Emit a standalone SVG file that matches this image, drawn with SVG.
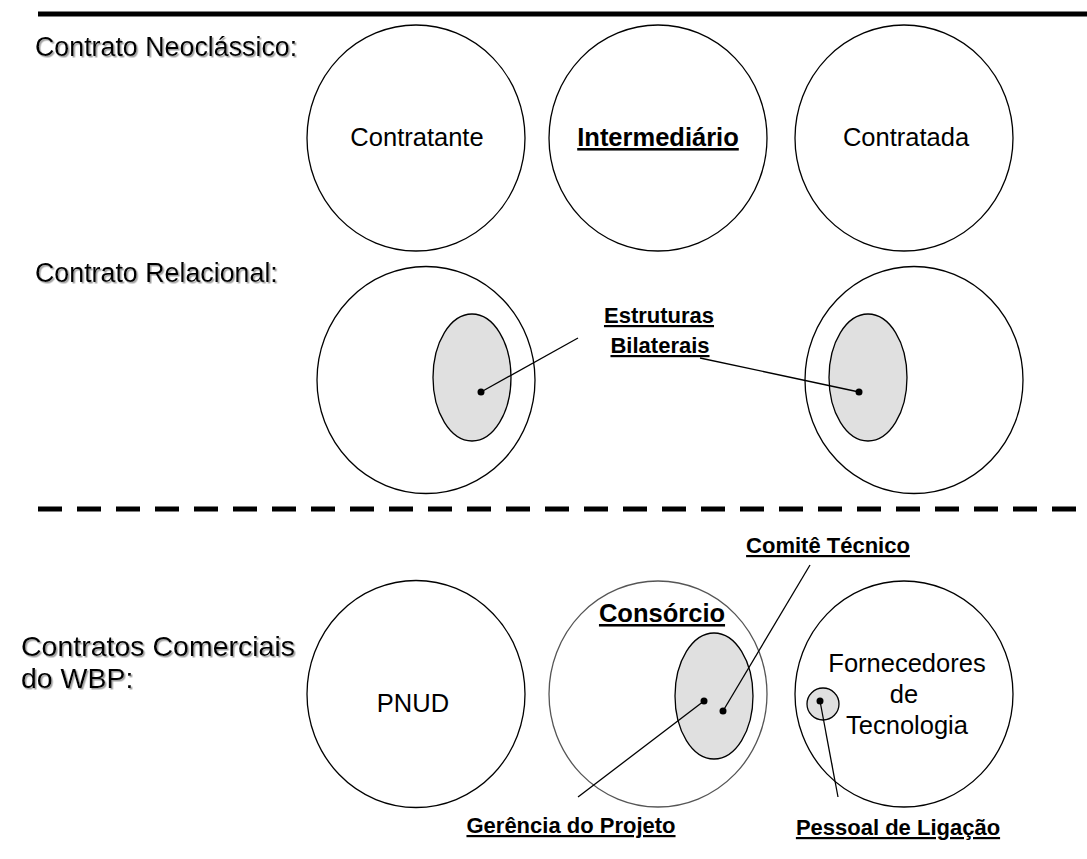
<svg xmlns="http://www.w3.org/2000/svg" width="1087" height="859" viewBox="0 0 1087 859">
  <style>
    .big { fill: #fff; stroke: #000; stroke-width: 1.3; }
    .soft { fill: #fff; stroke: #555; stroke-width: 1.3; }
    .inner { fill: #e0e0e0; stroke: #000; stroke-width: 1.3; }
    .lbl { font-family: "Liberation Sans", Arial, sans-serif; font-size: 26.8px; fill: #000; }
    .lbl2 { font-family: "Liberation Sans", Arial, sans-serif; font-size: 28.5px; fill: #000; }
    .node { font-family: "Liberation Sans", Arial, sans-serif; font-size: 25.5px; fill: #000; text-anchor: middle; }
    .hb { font-weight: bold; text-decoration: underline; }
    .tag { font-family: "Liberation Sans", Arial, sans-serif; font-size: 22px; font-weight: bold; text-decoration: underline; fill: #000; text-anchor: middle; }
    .lead { stroke: #000; stroke-width: 1.3; fill: none; }
    .dot { fill: #000; }
  </style>
  <defs>
    <filter id="shadow" x="-5%" y="-20%" width="110%" height="160%">
      <feDropShadow dx="1.5" dy="1.5" stdDeviation="0.6" flood-color="#888" flood-opacity="0.8"/>
    </filter>
  </defs>
  <rect width="1087" height="859" fill="#fff"/>

  <!-- separators -->
  <g id="separators">
    <line x1="38" y1="14" x2="1087" y2="14" stroke="#000" stroke-width="5"/>
    <line x1="38" y1="509" x2="1087" y2="509" stroke="#000" stroke-width="5" stroke-dasharray="24 15"/>
  </g>

  <!-- row labels -->
  <g id="row-labels" filter="url(#shadow)">
    <text class="lbl" x="35" y="56">Contrato Neoclássico:</text>
    <text class="lbl" x="35" y="282">Contrato Relacional:</text>
    <text class="lbl2" x="21" y="656">Contratos Comerciais</text>
    <text class="lbl2" x="21" y="688">do WBP:</text>
  </g>

  <!-- neoclassical contract -->
  <g id="contratante">
    <ellipse class="big" cx="416" cy="138" rx="109" ry="113"/>
    <text class="node" x="417" y="146">Contratante</text>
  </g>
  <g id="intermediario">
    <ellipse class="big" cx="658" cy="138" rx="109" ry="113"/>
    <text class="node hb" x="658" y="146">Intermediário</text>
  </g>
  <g id="contratada">
    <ellipse class="big" cx="904" cy="138" rx="109" ry="113"/>
    <text class="node" x="906" y="146">Contratada</text>
  </g>

  <!-- relational contract -->
  <g id="relacional-a">
    <ellipse class="big" cx="426" cy="380" rx="109" ry="113.5"/>
    <ellipse class="inner" cx="472" cy="377.5" rx="39" ry="63.5"/>
  </g>
  <g id="relacional-b">
    <ellipse class="big" cx="914" cy="380" rx="109" ry="113.5"/>
    <ellipse class="inner" cx="868" cy="377.5" rx="39" ry="63.5"/>
  </g>
  <g id="estruturas">
    <text class="tag" x="659" y="323">Estruturas</text>
    <text class="tag" x="660" y="353">Bilaterais</text>
  </g>

  <!-- WBP commercial contracts -->
  <g id="pnud">
    <ellipse class="big" cx="416" cy="694" rx="109" ry="113.5"/>
    <text class="node" x="413" y="712">PNUD</text>
  </g>
  <g id="consorcio">
    <ellipse class="soft" cx="658" cy="694" rx="109" ry="113"/>
    <ellipse class="inner" cx="714" cy="696" rx="39" ry="63"/>
    <text class="node hb" x="662" y="622">Consórcio</text>
  </g>
  <g id="fornecedores">
    <ellipse class="big" cx="904" cy="694" rx="109" ry="113"/>
    <circle class="inner" cx="823" cy="704" r="16"/>
    <text class="node" x="907" y="672">Fornecedores</text>
    <text class="node" x="904" y="703">de</text>
    <text class="node" x="907" y="734">Tecnologia</text>
  </g>
  <g id="comite-label">
    <text class="tag" x="828" y="553">Comitê Técnico</text>
  </g>
  <g id="gerencia-label">
    <text class="tag" x="571" y="833">Gerência do Projeto</text>
  </g>
  <g id="pessoal-label">
    <text class="tag" x="898" y="835">Pessoal de Ligação</text>
  </g>

  <!-- leader lines -->
  <g id="connectors">
    <line class="lead" x1="578" y1="338" x2="481" y2="392"/>
    <circle class="dot" cx="481" cy="392" r="3.5"/>
    <line class="lead" x1="700" y1="358" x2="859" y2="392"/>
    <circle class="dot" cx="859" cy="392" r="3.5"/>
    <line class="lead" x1="810" y1="565" x2="723" y2="711"/>
    <circle class="dot" cx="723" cy="711" r="3.5"/>
    <line class="lead" x1="578" y1="797" x2="704" y2="701"/>
    <circle class="dot" cx="704" cy="701" r="3.5"/>
    <line class="lead" x1="838" y1="797" x2="820" y2="701"/>
    <circle class="dot" cx="820" cy="701" r="3.5"/>
  </g>
</svg>
